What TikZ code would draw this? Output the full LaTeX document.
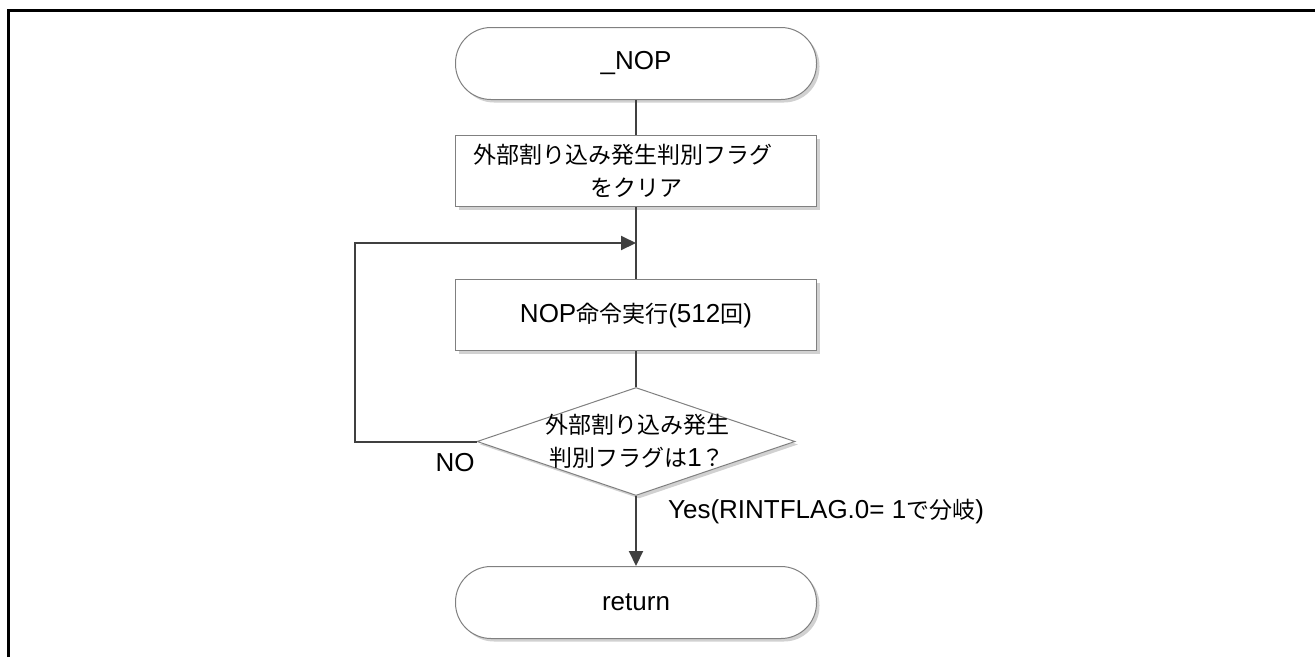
\documentclass[tikz,border=0pt]{standalone}
\usepackage{fontspec}
\setmainfont{Liberation Sans}
\newfontfamily\jpf{Noto Sans CJK JP}
\newcommand\J[1]{{\jpf\fontsize{23}{33}\selectfont #1}}
\usetikzlibrary{arrows.meta,shapes.geometric,shadows}
\begin{document}
\begin{tikzpicture}[x=1pt,y=-1pt,
 every node/.style={font=\fontsize{26}{33}\selectfont},
 shade/.style={drop shadow={shadow xshift=3pt,shadow yshift=-3pt,fill=black!18,opacity=1}},
 term/.style={draw=black!50,line width=1pt,fill=white,rounded corners=35.5pt,minimum width=361pt,minimum height=72pt,inner sep=0,shade},
 proc/.style={draw=black!50,line width=1pt,fill=white,minimum width=361pt,minimum height=71pt,inner sep=0,align=center,shade},
 dec/.style={draw=black!50,line width=1pt,fill=white,diamond,minimum width=318pt,minimum height=108pt,inner sep=0,shade},
 conn/.style={draw=black!75,line width=2pt},
 arr/.style={conn,-{Triangle[length=15pt,width=14pt]}},
 lbl/.style={inner sep=0}]
\useasboundingbox (0,0) rectangle (1315,657);
\draw[line width=3pt,black] (8,657) -- (8,10) -- (1315,10);

\node[term] (start) at (636,63.5) {\_NOP};
\node[proc] (p1) at (636,171) {\J{外部割り込み発生判別フラグ}\hspace*{26pt}\\\J{をクリア}};
\node[proc] (p2) at (636,315) {NOP\J{命令実行}(512\J{回})};
\node[dec] (d) at (636,441.5) {};
\node[lbl,align=center] (dt) at (637,441) {\J{外部割り込み発生}\\\J{判別フラグは}1\J{？}};
\node[term] (end) at (636,602.5) {return};

\coordinate (j) at (636,243);
\coordinate (lb) at (355,441.5);
\coordinate (lt) at (355,243);

\draw[conn] (start) -- (p1);
\draw[conn] (p1) -- (p2);
\draw[conn] (p2) -- (d);
\draw[arr,line join=miter] (d.west) -- (lb) -- (lt) -- (j);
\draw[arr] (d) -- (end);

\node[lbl] (no) at (455,463) {NO};
\node[lbl] (yes) at (826,512) {Yes(RINTFLAG.0= 1\J{で分岐})};
\end{tikzpicture}
\end{document}
